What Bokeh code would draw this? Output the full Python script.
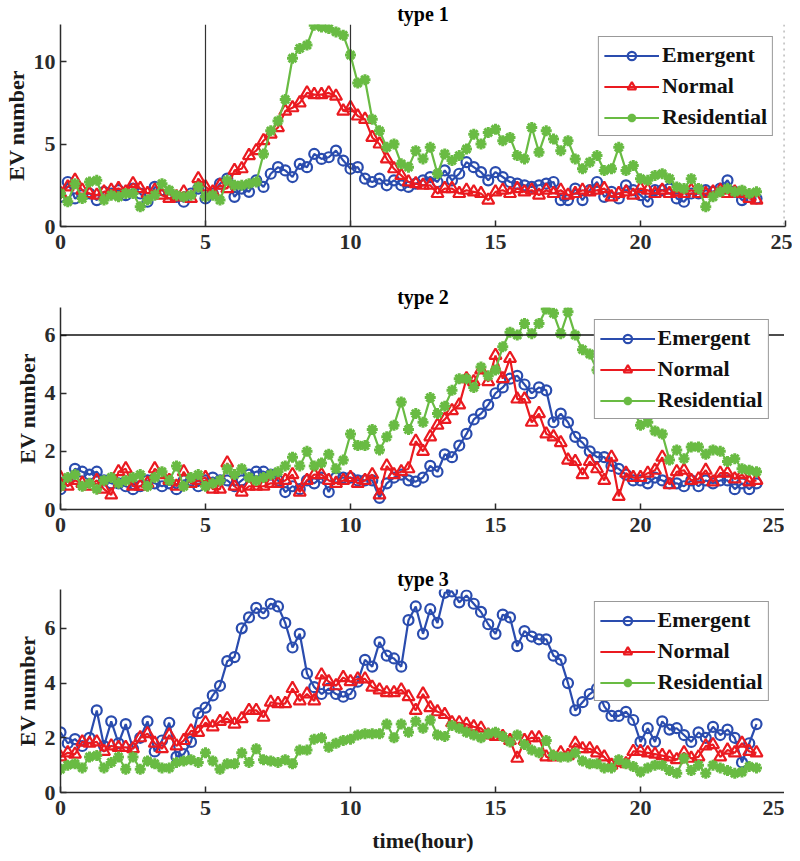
import numpy as np
from bokeh.plotting import figure
from bokeh.layouts import column
from bokeh.models import Span, Legend, LegendItem, Range1d, FixedTicker
from bokeh.embed import file_html
from bokeh.resources import INLINE

hours = np.arange(0, 24.001, 0.25)

# ---- type 1 ----
t1_emergent = [1.8, 2.7, 1.7, 1.9, 2.0, 1.6, 2.1, 2.0,
               2.2, 1.9, 2.3, 2.0, 1.5, 2.4, 2.2, 2.0,
               1.8, 1.5, 2.0, 2.3, 1.7, 2.0, 2.6, 2.9,
               1.8, 2.3, 2.1, 2.8, 2.4, 3.2, 3.6, 3.4,
               3.0, 3.8, 3.6, 4.4, 4.1, 4.2, 4.6, 4.0,
               3.5, 3.6, 2.9, 2.7, 2.9, 2.5, 2.8, 2.5,
               2.4, 2.6, 2.8, 3.0, 2.7, 3.4, 2.8, 3.2,
               3.9, 3.6, 3.3, 2.8, 3.3, 3.0, 2.7, 2.6,
               2.5, 2.4, 2.5, 2.6, 2.7, 1.6, 1.6, 2.3,
               1.6, 2.2, 2.7, 1.8, 2.1, 1.7, 2.5, 2.2,
               1.9, 1.5, 2.2, 2.2, 2.3, 1.7, 1.5, 2.0,
               2.0, 2.2, 2.1, 2.3, 2.8, 2.1, 1.6, 1.8,
               1.7]
t1_normal = [2.0, 2.4, 2.8, 2.2, 2.0, 1.9, 2.1, 2.2,
             2.3, 2.1, 2.6, 2.3, 2.0, 2.2, 1.9, 1.7,
             1.8, 2.1, 1.7, 2.9, 2.4, 2.1, 2.5, 2.3,
             3.4, 3.5, 4.3, 4.6, 5.2, 5.6, 6.0, 7.0,
             7.2, 7.5, 8.1, 8.0, 8.0, 8.1, 7.9, 7.0,
             7.2, 6.7, 6.5, 5.4, 5.0, 4.1, 3.5, 3.1,
             2.7, 2.6, 2.5, 2.5, 2.0, 2.3, 2.3, 2.0,
             2.2, 2.1, 2.0, 1.6, 2.1, 2.2, 2.0, 2.3,
             2.1, 2.2, 1.9, 2.2, 2.0, 2.2, 1.9, 2.0,
             2.2, 2.1, 2.2, 2.3, 1.8, 2.0, 2.1, 1.9,
             2.3, 2.2, 2.0, 2.2, 2.0, 2.1, 2.0, 2.2,
             2.0, 2.0, 2.1, 2.2, 2.0, 2.1, 2.0, 1.7,
             1.6]
t1_residential = [2.0, 1.5, 2.6, 1.7, 2.7, 2.8, 1.6, 1.9,
                  1.8, 2.0, 2.0, 1.2, 1.6, 1.9, 2.6, 2.2,
                  1.9, 1.8, 1.9, 2.4, 1.8, 1.9, 1.6, 2.8,
                  2.5, 2.5, 2.6, 2.7, 4.4, 5.8, 6.4, 7.7,
                  10.2, 10.8, 11.0, 12.2, 12.1, 12.0, 11.8, 11.6,
                  10.4, 8.7, 8.9, 6.5, 5.8, 4.8, 5.0, 3.8,
                  3.6, 4.6, 4.1, 4.8, 3.2, 4.4, 4.0, 4.3,
                  4.7, 5.6, 5.0, 5.7, 5.9, 5.2, 5.4, 4.3,
                  4.1, 6.0, 4.5, 5.8, 5.3, 4.6, 5.2, 4.1,
                  3.5, 3.9, 4.3, 3.4, 3.5, 4.8, 3.4, 3.7,
                  2.9, 2.8, 3.1, 3.2, 2.9, 2.4, 2.3, 2.9,
                  2.3, 1.2, 1.8, 2.1, 2.3, 2.1, 2.2, 2.0,
                  2.1]

# ---- type 2 ----
t2_emergent = [0.7, 1.0, 1.4, 1.3, 1.2, 1.3, 1.0, 0.9,
               0.9, 0.8, 0.7, 0.8, 1.0, 0.9, 0.8, 0.9,
               0.7, 1.0, 1.0, 0.8, 1.0, 1.1, 1.0, 1.0,
               0.8, 1.0, 1.2, 1.3, 1.3, 1.2, 1.0, 0.6,
               0.8, 0.7, 1.0, 0.9, 1.1, 0.6, 1.1, 1.1,
               1.1, 1.0, 1.0, 1.0, 0.4, 0.9, 1.1, 1.2,
               1.0, 0.96, 1.1, 1.5, 1.3, 1.9, 1.8, 2.2,
               2.6, 3.1, 3.3, 3.6, 4.0, 4.2, 4.5, 4.6,
               4.3, 4.0, 4.2, 4.1, 3.0, 3.3, 3.0, 2.5,
               2.3, 2.0, 1.8, 1.8, 1.5, 1.4, 1.2, 1.0,
               1.0, 0.9, 1.1, 1.0, 0.9, 0.9, 0.8, 1.0,
               0.8, 1.0, 0.9, 1.0, 1.0, 0.7, 0.9, 0.7,
               0.9]
t2_normal = [1.1, 0.8, 1.0, 0.9, 0.8, 1.0, 0.7, 0.5,
             1.3, 1.4, 0.8, 0.8, 0.9, 1.4, 1.2, 1.0,
             0.8, 1.3, 0.9, 1.0, 1.1, 0.7, 0.7, 1.6,
             0.8, 0.6, 0.8, 0.8, 0.8, 0.9, 0.9, 1.0,
             1.2, 0.6, 1.0, 1.2, 1.2, 1.0, 0.9, 1.0,
             1.1, 0.9, 1.0, 1.2, 0.5, 1.5, 1.2, 1.3,
             1.4, 2.35, 2.0, 2.5, 2.9, 3.1, 3.4, 3.6,
             4.5, 4.4, 4.8, 4.4, 5.3, 4.5, 5.2, 3.8,
             3.8, 3.0, 3.3, 2.6, 2.5, 2.3, 1.7, 1.65,
             1.2, 1.65, 1.4, 1.0, 1.8, 0.45, 1.25, 1.1,
             1.1, 1.25, 1.35, 1.8, 0.85, 1.3, 1.35, 1.0,
             1.05, 1.35, 0.95, 1.25, 1.25, 1.05, 1.2, 0.95,
             1.0]
t2_residential = [0.8, 1.1, 1.2, 0.8, 0.9, 0.7, 1.0, 1.1,
                  0.9, 1.0, 1.1, 1.2, 0.8, 1.1, 1.3, 1.0,
                  1.5, 0.8, 1.1, 1.2, 0.8, 0.9, 1.0, 1.4,
                  1.2, 1.4, 1.1, 1.0, 1.1, 1.2, 1.3, 1.5,
                  1.8, 1.5, 2.0, 1.5, 1.6, 1.9, 1.4, 1.7,
                  2.6, 2.2, 2.2, 2.75, 2.05, 2.5, 2.9, 3.7,
                  2.75, 3.3, 3.0, 3.85, 3.3, 3.55, 4.1, 4.5,
                  4.5, 4.2, 4.9, 4.6, 4.8, 5.6, 6.1, 6.0,
                  6.4, 6.05, 6.4, 6.9, 6.75, 6.05, 6.8, 6.0,
                  5.5, 5.35, 4.8, 4.4, 4.1, 3.9, 3.7, 3.45,
                  2.9, 3.0, 2.7, 2.6, 1.7, 2.05, 1.75, 2.15,
                  2.15, 1.9, 2.05, 2.0, 1.65, 1.75, 1.4, 1.35,
                  1.3]

# ---- type 3 ----
t3_emergent = [2.2, 1.8, 1.95, 1.7, 2.0, 3.0, 1.7, 2.6,
               1.8, 2.5, 1.6, 2.0, 2.6, 1.5, 1.9, 2.55,
               1.3, 1.4, 1.85, 2.9, 3.1, 3.55, 3.9, 4.8,
               4.95, 6.0, 6.4, 6.75, 6.55, 6.9, 6.8, 6.2,
               5.3, 5.8, 4.35, 3.85, 3.6, 3.8, 3.6, 3.5,
               3.6, 4.05, 4.85, 4.6, 5.5, 5.0, 4.9, 4.6,
               6.3, 6.8, 5.8, 6.7, 6.2, 7.3, 7.35, 6.95,
               7.2, 6.9, 6.6, 6.15, 5.8, 6.5, 6.4, 5.35,
               5.9, 5.7, 5.6, 5.6, 5.0, 4.85, 4.0, 3.0,
               3.3, 3.6, 3.8, 3.15, 2.8, 2.8, 2.95, 2.65,
               1.85, 2.35, 1.85, 2.6, 2.3, 2.35, 2.1, 1.85,
               2.2, 2.0, 2.4, 2.1, 2.3, 2.0, 1.1, 1.8,
               2.5]
t3_normal = [1.3, 1.45, 1.4, 1.85, 1.8, 1.85, 1.5, 1.7,
             1.65, 1.65, 1.6, 2.0, 2.15, 1.8, 1.6, 2.1,
             1.7, 1.9, 2.25, 2.2, 2.55, 2.4, 2.6, 2.7,
             2.5, 2.7, 3.0, 3.0, 2.75, 3.3, 3.25, 3.25,
             3.8, 3.35, 3.6, 3.35, 4.3, 4.05, 3.9, 4.2,
             4.05, 4.15, 4.15, 3.85, 3.75, 3.65, 3.65, 3.75,
             3.5, 3.0, 3.6, 3.1, 2.95, 2.85, 2.55, 2.55,
             2.5, 2.4, 2.35, 2.1, 2.05, 2.05, 1.9, 1.25,
             1.9, 2.0, 2.0, 1.3, 1.3, 1.45, 1.35, 1.8,
             1.6, 1.6, 1.45, 1.3, 1.0, 1.1, 1.05, 1.5,
             1.5, 1.45, 1.4, 1.35, 1.3, 1.2, 1.45, 1.25,
             1.3, 1.7, 1.75, 1.3, 1.55, 1.45, 1.8, 1.5,
             1.45]
t3_residential = [0.85, 1.0, 1.05, 0.9, 1.3, 1.35, 0.9, 1.1,
                  1.3, 0.85, 1.3, 0.85, 1.15, 1.05, 0.9, 0.9,
                  1.1, 1.15, 1.2, 1.1, 1.45, 1.15, 0.85, 1.05,
                  1.05, 1.45, 1.1, 1.6, 1.2, 1.15, 1.1, 1.2,
                  1.05, 1.55, 1.55, 1.95, 2.0, 1.65, 1.8, 1.9,
                  1.95, 2.1, 2.15, 2.15, 2.15, 2.5, 2.0, 2.5,
                  2.2, 2.6, 2.35, 2.65, 2.1, 2.05, 2.45, 2.35,
                  2.2, 2.1, 2.0, 2.15, 2.2, 2.05, 1.85, 2.1,
                  1.75, 1.55, 1.45, 1.9, 1.35, 1.3, 1.3, 1.45,
                  1.15, 1.05, 1.05, 0.9, 0.9, 1.2, 1.05, 0.95,
                  0.75, 0.9, 1.0, 1.0, 0.8, 0.7, 1.25, 0.8,
                  1.0, 0.7, 1.0, 0.9, 0.8, 0.7, 0.75, 0.95,
                  0.9]

x_ticks = [0, 5, 10, 15, 20, 25]
series_names = ["Emergent", "Normal", "Residential"]

BLUE = "#2a4cae"
RED = "#ea1a20"
GREEN = "#69bb43"
FONT = "Liberation Serif"
AX = "#2b2b2b"


def make_panel(title, emerg, norm, resid, ymax, yticks, fh, top, bottom, xlabel=None):
    p = figure(frame_width=725, frame_height=fh, output_backend="svg", toolbar_location=None,
               x_range=Range1d(0, 25), y_range=Range1d(0, ymax),
               min_border_left=52, min_border_right=7,
               min_border_top=top, min_border_bottom=bottom)
    p.title.text = title
    p.title.align = "center"
    p.title.text_font = FONT
    p.title.text_font_style = "bold"
    p.title.text_font_size = "20px"
    p.title.text_color = "black"
    p.title.standoff = 0
    p.title.offset = 0
    p.outline_line_color = None
    p.xgrid.visible = False
    p.ygrid.visible = False
    p.background_fill_color = "white"
    p.border_fill_color = "white"
    for ax in (p.xaxis[0], p.yaxis[0]):
        ax.axis_line_color = AX
        ax.axis_line_width = 1.5
        ax.major_tick_line_color = AX
        ax.major_tick_line_width = 1.5
        ax.major_tick_in = 6
        ax.major_tick_out = 0
        ax.minor_tick_line_color = None
        ax.major_label_text_font = FONT
        ax.major_label_text_font_style = "bold"
        ax.major_label_text_font_size = "22px"
        ax.major_label_text_color = AX
        ax.axis_label_text_font = FONT
        ax.axis_label_text_font_style = "bold"
        ax.axis_label_text_font_size = "22px"
        ax.axis_label_text_color = "#1a1a1a"
    p.xaxis.ticker = FixedTicker(ticks=x_ticks)
    p.yaxis.ticker = FixedTicker(ticks=yticks)
    p.xaxis.major_label_standoff = 8
    p.yaxis.major_label_standoff = 5
    p.yaxis.axis_label = "EV number"
    p.yaxis.axis_label_standoff = 2
    if xlabel:
        p.xaxis.axis_label = xlabel
        p.xaxis.axis_label_standoff = 10

    items = []
    specs = [(emerg, BLUE, "circle", 10, 2.2), (norm, RED, "triangle", 12, 2.2),
             (resid, GREEN, "asterisk", 11, 3.0)]
    for name, (vals, col, mk, sz, lw) in zip(series_names, specs):
        lr = p.line(hours, vals, line_color=col, line_width=2.2)
        sr = p.scatter(hours, vals, marker=mk, size=sz, line_color=col,
                       fill_color=None, line_width=lw)
        items.append(LegendItem(label=name, renderers=[lr, sr]))
    leg = Legend(items=items, location="top_right")
    leg.margin = 12
    leg.padding = 5
    leg.spacing = 5
    leg.glyph_width = 55
    leg.glyph_height = 21
    leg.label_standoff = 3
    leg.label_text_font = FONT
    leg.label_text_font_style = "bold"
    leg.label_text_font_size = "22px"
    leg.label_text_color = "#111111"
    leg.border_line_color = "#333333"
    leg.border_line_width = 1.5
    leg.background_fill_color = "white"
    leg.background_fill_alpha = 1.0
    p.add_layout(leg)
    return p


p1 = make_panel("type 1", t1_emergent, t1_normal, t1_residential, 12.25, [0, 5, 10],
                202, 20, 44)
p1.add_layout(Span(location=5, dimension="height", line_color="#333333", line_width=1.2), "center")
p1.add_layout(Span(location=10, dimension="height", line_color="#333333", line_width=1.2), "center")
p1.add_layout(Span(location=24.95, dimension="height", line_color="#999999", line_width=1,
                   line_dash="dotted"), "center")

p2 = make_panel("type 2", t2_emergent, t2_normal, t2_residential, 6.95, [0, 2, 4, 6],
                202, 37, 44)
p2.add_layout(Span(location=6, dimension="width", line_color="#111111", line_width=1.5), "center")

p3 = make_panel("type 3", t3_emergent, t3_normal, t3_residential, 7.42, [0, 2, 4, 6],
                203, 36, 59, xlabel="time(hour)")

layout = column(p1, p2, p3, spacing=0)
open("out.html", "w").write(file_html(layout, INLINE))
